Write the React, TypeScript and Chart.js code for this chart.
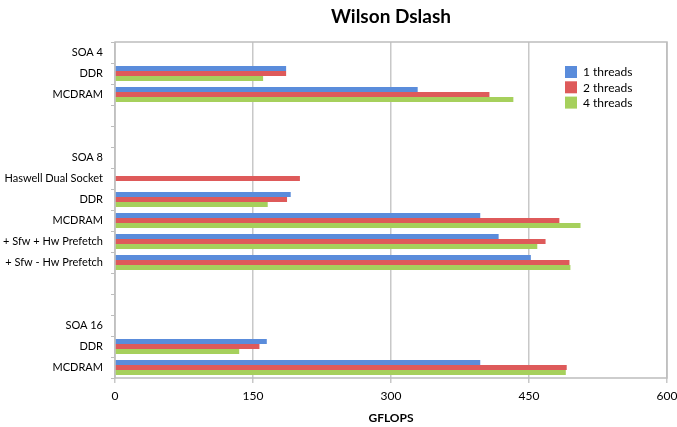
import React, { useEffect, useRef } from "react";
import { Chart, registerables } from "chart.js";

Chart.register(...registerables);

const chartTitle = "Wilson Dslash";
const axisTitle = "GFLOPS";
const categories = [
  "SOA 4", "DDR", "MCDRAM", "", "",
  "SOA 8", "Haswell Dual Socket", "DDR", "MCDRAM", "+ Sfw + Hw Prefetch", "+ Sfw - Hw Prefetch", "", "",
  "SOA 16", "DDR", "MCDRAM",
];
const seriesLabels = ["1 threads", "2 threads", "4 threads"];
const threads1 = [null, 186, 329, null, null, null, null, 191, 397, 417, 452, null, null, null, 165, 397];
const threads2 = [null, 186, 407, null, null, null, 201, 187, 483, 468, 494, null, null, null, 157, 491];
const threads4 = [null, 161, 433, null, null, null, null, 166, 506, 459, 495, null, null, null, 135, 490];
const xMin = 0;
const xMax = 600;
const xStep = 150;

const colors = ["#5A8CDB", "#DE5A5A", "#A6D05C"];
const FONT = "Lato, 'Open Sans', sans-serif";

export default function App() {
  const ref = useRef<HTMLCanvasElement | null>(null);

  useEffect(() => {
    if (!ref.current) return;

    const framePlugin = {
      id: "frameAndTitle",
      beforeDatasetsDraw(chart: any) {
        const { ctx, chartArea: a } = chart;
        ctx.save();
        ctx.strokeStyle = "#BDBDBD";
        ctx.lineWidth = 1.5;
        ctx.strokeRect(a.left, a.top, a.right - a.left, a.bottom - a.top);
        ctx.restore();
      },
      afterDraw(chart: any) {
        const { ctx, chartArea: a } = chart;
        ctx.save();
        ctx.fillStyle = "#000";
        ctx.font = `bold 19px ${FONT}`;
        ctx.textAlign = "center";
        ctx.textBaseline = "middle";
        ctx.fillText(chartTitle, (a.left + a.right) / 2, 17);
        // legend
        const ds = chart.data.datasets;
        ctx.font = `12px ${FONT}`;
        ctx.textAlign = "left";
        ds.forEach((d: any, i: number) => {
          const y = 66 + i * 15.3;
          ctx.fillStyle = d.backgroundColor;
          ctx.fillRect(565, y, 12, 12);
          ctx.fillStyle = "#000";
          ctx.fillText(d.label, 583, y + 6.5);
        });
        ctx.restore();
      },
    };

    const chart = new Chart(ref.current, {
      type: "bar",
      data: {
        labels: categories,
        datasets: [
          { label: seriesLabels[0], data: threads1, backgroundColor: colors[0] },
          { label: seriesLabels[1], data: threads2, backgroundColor: colors[1] },
          { label: seriesLabels[2], data: threads4, backgroundColor: colors[2] },
        ],
      },
      options: {
        indexAxis: "y",
        responsive: false,
        animation: false,
        layout: { padding: { top: 42, right: 0, left: 0, bottom: 0 } },
        datasets: { bar: { categoryPercentage: 0.72, barPercentage: 1.0, skipNull: false } },
        plugins: {
          legend: { display: false },
          title: { display: false },
          tooltip: { enabled: false },
        },
        scales: {
          y: {
            grid: { offset: true, drawOnChartArea: false, tickLength: 4, color: "#BDBDBD" },
            border: { display: false },
            ticks: { color: "#000", padding: 8, font: { family: FONT, size: 11 }, autoSkip: false },
            afterFit: (s: any) => { s.width = 115; },
          },
          x: {
            min: xMin,
            max: xMax,
            grid: { color: "#C8C8C8", lineWidth: 1.5, tickLength: 5 },
            border: { display: false },
            ticks: { stepSize: xStep, color: "#000", padding: 6, font: { family: FONT, size: 12 } },
            title: { display: true, text: axisTitle, color: "#000", font: { family: FONT, size: 12, weight: "bold" }, padding: { top: 0, bottom: 2 } },
            afterFit: (s: any) => { s.height = 49; s.paddingRight = 10; },
          },
        },
      },
      plugins: [framePlugin],
    } as any);

    return () => chart.destroy();
  }, []);

  return (
    <div style={{ position: "fixed", left: 0, top: 0, width: 677, height: 427, background: "#fff" }}>
      <canvas ref={ref} width={677} height={427} style={{ width: 677, height: 427, display: "block" }} />
    </div>
  );
}
